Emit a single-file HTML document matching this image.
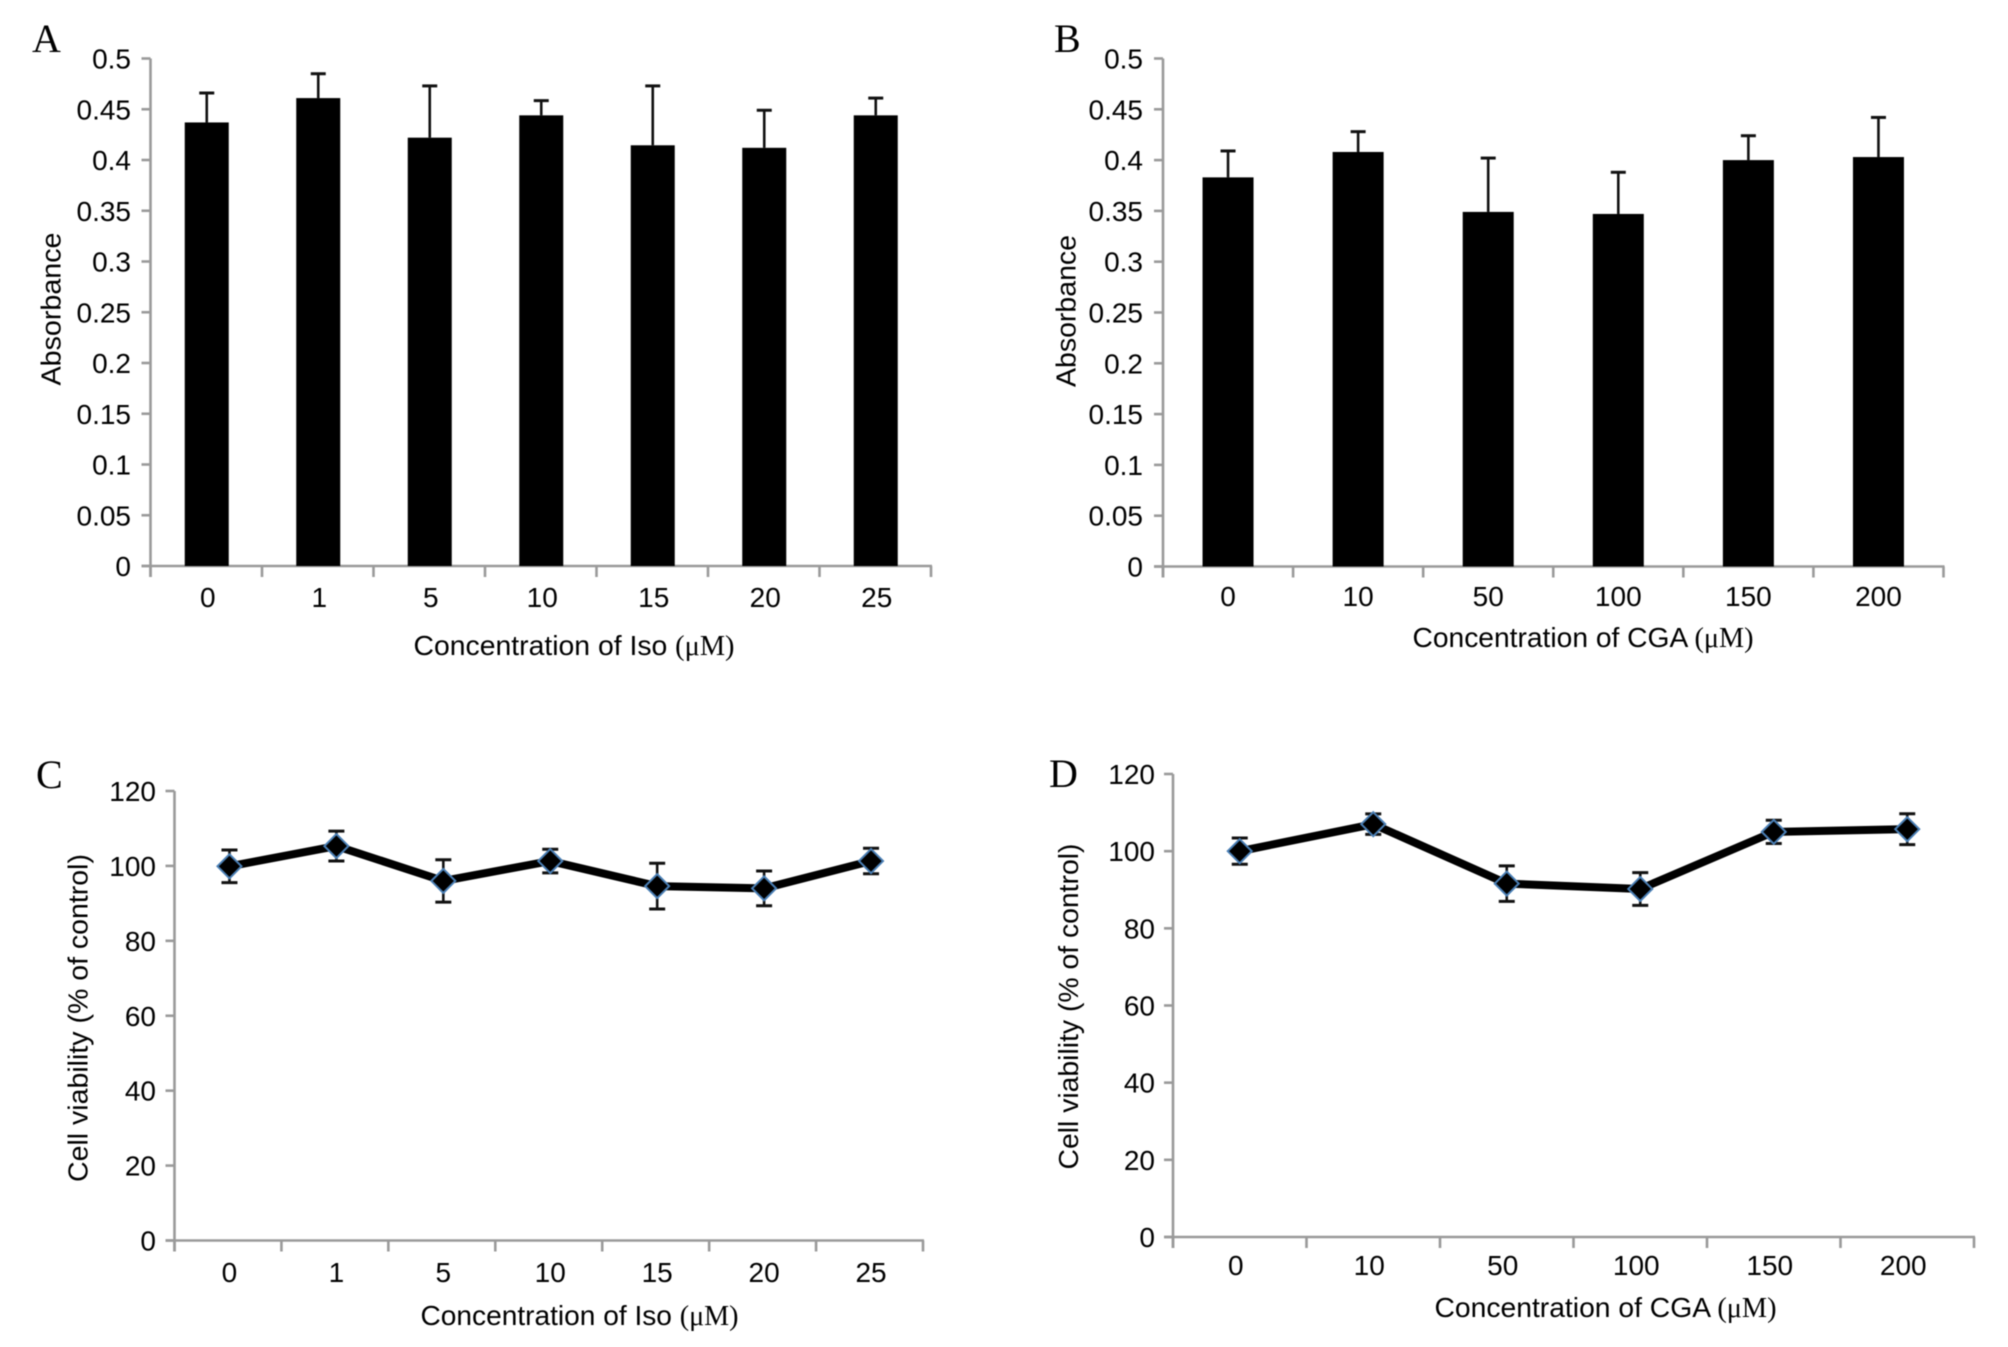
<!DOCTYPE html>
<html lang="en">
<head>
<meta charset="utf-8">
<title>Absorbance and cell viability charts</title>
<style>
html,body{margin:0;padding:0;background:#fff;width:2008px;height:1347px;overflow:hidden}
svg{display:block;filter:blur(0.5px)}
text{font-family:"Liberation Sans",sans-serif;fill:#000}
.serif{font-family:"Liberation Serif",serif}
</style>
</head>
<body>
<svg id="figure" xmlns="http://www.w3.org/2000/svg" width="2008" height="1347" viewBox="0 0 2008 1347">
  <rect width="2008" height="1347" fill="#fff"/>
  <text class="serif" x="32" y="52" font-size="40">A</text>
  <text class="serif" x="1054" y="52" font-size="40">B</text>
  <text class="serif" x="36" y="788" font-size="40">C</text>
  <text class="serif" x="1049" y="787" font-size="40">D</text>
  <g id="panel-a"></g>
  <g id="panel-b"></g>
  <g id="panel-c"></g>
  <g id="panel-d"></g>
</svg>
<script>
// Categories
const isoDoses = ['0', '1', '5', '10', '15', '20', '25'];
const cgaDoses = ['0', '10', '50', '100', '150', '200'];
// Axis tick labels
const absorbanceTicks = ['0', '0.05', '0.1', '0.15', '0.2', '0.25', '0.3', '0.35', '0.4', '0.45', '0.5'];
const viabilityTicks = ['0', '20', '40', '60', '80', '100', '120'];
// Series values
const isoAbsorbance = [0.437, 0.461, 0.422, 0.444, 0.4145, 0.412, 0.444];
const isoAbsorbanceErr = [0.029, 0.024, 0.051, 0.0145, 0.0585, 0.037, 0.017];
const cgaAbsorbance = [0.383, 0.408, 0.349, 0.347, 0.400, 0.403];
const cgaAbsorbanceErr = [0.026, 0.020, 0.053, 0.041, 0.024, 0.039];
const isoViability = [99.9, 105.3, 96, 101.3, 94.6, 94, 101.3];
const isoViabilityErr = [4.35, 4, 5.65, 3.15, 6.1, 4.65, 3.4];
const cgaViability = [100, 107, 91.6, 90.2, 105, 105.7];
const cgaViabilityErr = [3.4, 2.65, 4.6, 4.25, 3, 4];

const NS = 'http://www.w3.org/2000/svg';
function make(parent, tag, attrs, text) {
  const node = document.createElementNS(NS, tag);
  for (const k in attrs) node.setAttribute(k, attrs[k]);
  if (text !== undefined) node.textContent = text;
  parent.appendChild(node);
  return node;
}

function drawAxes(g, cfg) {
  const maxTick = parseFloat(cfg.ticks[cfg.ticks.length - 1]);
  const y = v => cfg.bottom - (v / maxTick) * (cfg.bottom - cfg.top);
  const band = (cfg.right - cfg.left) / cfg.cats.length;
  const x = i => cfg.left + band * (i + 0.5) + cfg.markDx;

  const yAxis = make(g, 'line', {x1: cfg.left, x2: cfg.left, y1: cfg.top, y2: cfg.bottom + 11, stroke: '#9a9a9a', 'stroke-width': 2.6});
  
  
  const xAxis = make(g, 'line', {x1: cfg.left - 9, x2: cfg.right + 1, y1: cfg.bottom, y2: cfg.bottom, stroke: '#9a9a9a', 'stroke-width': 2.6});
  
  

  cfg.ticks.forEach(label => {
    const v = parseFloat(label);
    const tick = make(g, 'line', {x1: cfg.left - 9, x2: cfg.left, y1: y(v), y2: y(v), stroke: '#9a9a9a', 'stroke-width': 2.6});
    
    
    const t = make(g, 'text', {x: cfg.yLabelX, y: y(v) + 10, 'text-anchor': 'end', 'font-size': 28}, label);
    
    
  });

  for (let i = 0; i <= cfg.cats.length; i++) {
    const px = cfg.left + (cfg.right - cfg.left) / cfg.cats.length * i;
    const tick = make(g, 'line', {x1: px, x2: px, y1: cfg.bottom, y2: cfg.bottom + 11, stroke: '#9a9a9a', 'stroke-width': 2.6});
    
    
  }
  cfg.cats.forEach((label, i) => {
    const t = make(g, 'text', {x: x(i) + cfg.xLabelDx, y: cfg.xLabelY, 'text-anchor': 'middle', 'font-size': 28}, label);
    
    
  });

  const xt = make(g, 'text', {x: cfg.xTitle[0], y: cfg.xTitle[1], 'font-size': 28, textLength: cfg.xTitle[2], lengthAdjust: 'spacingAndGlyphs'});
  
  
  make(xt, 'tspan', {}, cfg.xTitleText + ' ');
  make(xt, 'tspan', {class: 'serif'}, '(\u03bcM)');

  const yt = make(g, 'text', {
    transform: 'translate(' + cfg.yTitle[0] + ',' + cfg.yTitle[1] + ') rotate(-90)',
    'font-size': 28, textLength: cfg.yTitle[2], lengthAdjust: 'spacingAndGlyphs'
  }, cfg.yTitleText);
  
  

  return {x, y};
}

function drawBars(cfg) {
  const g = document.getElementById(cfg.id);
  const {x, y} = drawAxes(g, cfg);
  cfg.values.forEach((v, i) => {
    const err = cfg.errs[i];
    const stem = make(g, 'line', {x1: x(i), x2: x(i), y1: y(v), y2: y(v + err), stroke: '#111', 'stroke-width': 2.6});
    
    
    const cap = make(g, 'line', {x1: x(i) - 7.5, x2: x(i) + 7.5, y1: y(v + err), y2: y(v + err), stroke: '#111', 'stroke-width': 3});
    
    
    const bar = make(g, 'rect', {x: x(i) - cfg.barWidth / 2, y: y(v), width: cfg.barWidth, height: y(0) - y(v), fill: '#000'});
    
    
  });
}

function drawLine(cfg) {
  const g = document.getElementById(cfg.id);
  const {x, y} = drawAxes(g, cfg);
  cfg.values.forEach((v, i) => {
    const err = cfg.errs[i];
    const stem = make(g, 'line', {x1: x(i), x2: x(i), y1: y(v - err), y2: y(v + err), stroke: '#111', 'stroke-width': 2.6});
    
    
    [v - err, v + err].forEach(e => {
      const cap = make(g, 'line', {x1: x(i) - 8, x2: x(i) + 8, y1: y(e), y2: y(e), stroke: '#111', 'stroke-width': 3});
      
      
    });
  });
  const pts = cfg.values.map((v, i) => x(i) + ',' + y(v)).join(' ');
  const line = make(g, 'polyline', {points: pts, fill: 'none', stroke: '#000', 'stroke-width': 8, 'stroke-linejoin': 'round'});
  
  
  cfg.values.forEach((v, i) => {
    const cx = x(i), cy = y(v);
    const d = [cx, cy - 12, cx + 12, cy, cx, cy + 12, cx - 12, cy].join(' ');
    const m = make(g, 'polygon', {points: d, fill: '#000', stroke: '#4a7fb5', 'stroke-width': 2});
    
    
  });
}

drawBars({
  id: 'panel-a', cats: isoDoses, ticks: absorbanceTicks, values: isoAbsorbance, errs: isoAbsorbanceErr,
  left: 150.5, right: 931, top: 58.5, bottom: 566, barWidth: 44, markDx: 0.5,
  yLabelX: 131, xLabelY: 607, xLabelDx: 1,
  xTitleText: 'Concentration of Iso', xTitle: [413.5, 655, 321],
  yTitleText: 'Absorbance', yTitle: [60.5, 385.5, 153]
});
drawBars({
  id: 'panel-b', cats: cgaDoses, ticks: absorbanceTicks, values: cgaAbsorbance, errs: cgaAbsorbanceErr,
  left: 1163, right: 1943.5, top: 58.5, bottom: 566.5, barWidth: 51, markDx: 0,
  yLabelX: 1143, xLabelY: 606, xLabelDx: 0,
  xTitleText: 'Concentration of CGA', xTitle: [1412.5, 647, 341],
  yTitleText: 'Absorbance', yTitle: [1075.5, 387, 152]
});
drawLine({
  id: 'panel-c', cats: isoDoses, ticks: viabilityTicks, values: isoViability, errs: isoViabilityErr,
  left: 174.5, right: 923, top: 791, bottom: 1240.5, markDx: 1.5,
  yLabelX: 156, xLabelY: 1282, xLabelDx: 0,
  xTitleText: 'Concentration of Iso', xTitle: [420.5, 1325, 318],
  yTitleText: 'Cell viability (% of control)', yTitle: [87.5, 1182, 328]
});
drawLine({
  id: 'panel-d', cats: cgaDoses, ticks: viabilityTicks, values: cgaViability, errs: cgaViabilityErr,
  left: 1173, right: 1974, top: 774, bottom: 1237, markDx: 0,
  yLabelX: 1155, xLabelY: 1275, xLabelDx: -4,
  xTitleText: 'Concentration of CGA', xTitle: [1434.5, 1317, 342],
  yTitleText: 'Cell viability (% of control)', yTitle: [1078, 1169.5, 326]
});
</script>
</body>
</html>
